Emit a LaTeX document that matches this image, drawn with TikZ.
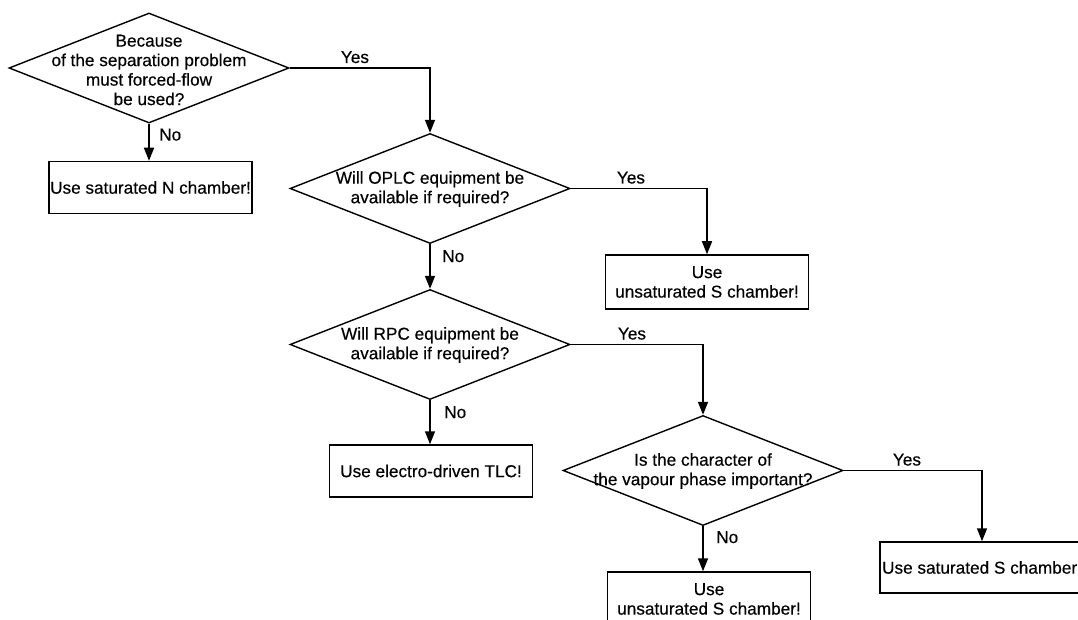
\documentclass[tikz,border=0pt]{standalone}
\usepackage{fontspec}
\setmainfont{Liberation Sans}
\newfontfamily\flowfamily{Liberation Sans}[FakeBold=0.35]
\usetikzlibrary{shapes.geometric,arrows.meta}

\newcommand{\flowfont}{\flowfamily\fontsize{17.2}{19.5}\selectfont}

\tikzset{
  flow/.style={line width=1.6pt, -{Triangle[length=13pt,width=10pt]}},
  decision/.style={diamond, draw, line width=1.4pt, inner sep=0pt,
    minimum width=280pt, minimum height=110pt},
  qtext/.style={align=center, font=\flowfont, inner sep=0pt},
  action/.style={rectangle, draw, line width=1.5pt, inner sep=0pt,
    minimum width=203pt, minimum height=52pt, align=center, font=\flowfont},
  answer/.style={font=\flowfont, inner sep=0pt},
}

\begin{document}
\begin{tikzpicture}[x=1pt,y=-1pt]
  \useasboundingbox (0,0) rectangle (1078,620);
  \clip (0,0) rectangle (1078,620);

  % decisions
  \node[decision] (d1) at (149,68) {};
  \node[qtext] (q1) at (149,70) {Because\\of the separation problem\\must forced-flow\\be used?};
  \node[decision] (d2) at (430,188.5) {};
  \node[qtext] (q2) at (430,189) {Will OPLC equipment be\\available if required?};
  \node[decision] (d3) at (430,344.5) {};
  \node[qtext] (q3) at (430,345) {Will RPC equipment be\\available if required?};
  \node[decision] (d4) at (703,470.5) {};
  \node[qtext] (q4) at (703,471) {Is the character of\\the vapour phase important?};

  % outcomes
  \node[action] (b1) at (150.5,187.5) {Use saturated N chamber!};
  \node[action, minimum height=54pt] (b2) at (707,282) {Use\\unsaturated S chamber!};
  \node[action] (b3) at (431,471) {Use electro-driven TLC!};
  \node[action, minimum height=54pt] (b4) at (709,599) {Use\\unsaturated S chamber!};
  \node[action, minimum width=204pt, minimum height=51pt] (b5) at (982,567.5) {Use saturated S chamber\phantom{!}};

  % connectors
  \draw[flow] (d1.east) -| (d2.north);
  \draw[flow] (d1.south) -- (d1.south |- b1.north);
  \draw[flow] (d2.east) -| (b2.north);
  \draw[flow] (d2.south) -- (d3.north);
  \draw[flow] (d3.east) -| (d4.north);
  \draw[flow] (d3.south) -- (d3.south |- b3.north);
  \draw[flow] (d4.east) -| (b5.north);
  \draw[flow] (d4.south) -- (d4.south |- b4.north);

  % answers
  \node[answer, anchor=base west] (y1) at ([shift={(51,-5)}]d1.east) {Yes};
  \node[answer, anchor=base west] (y2) at ([shift={(46,-5)}]d2.east) {Yes};
  \node[answer, anchor=base west] (y3) at ([shift={(47,-5)}]d3.east) {Yes};
  \node[answer, anchor=base west] (y4) at ([shift={(49,-5)}]d4.east) {Yes};
  \node[answer, anchor=west] (n1) at ([shift={(10,11)}]d1.south) {No};
  \node[answer, anchor=west] (n2) at ([shift={(12,12)}]d2.south) {No};
  \node[answer, anchor=west] (n3) at ([shift={(14,12)}]d3.south) {No};
  \node[answer, anchor=west] (n4) at ([shift={(13,11)}]d4.south) {No};
\end{tikzpicture}
\end{document}
